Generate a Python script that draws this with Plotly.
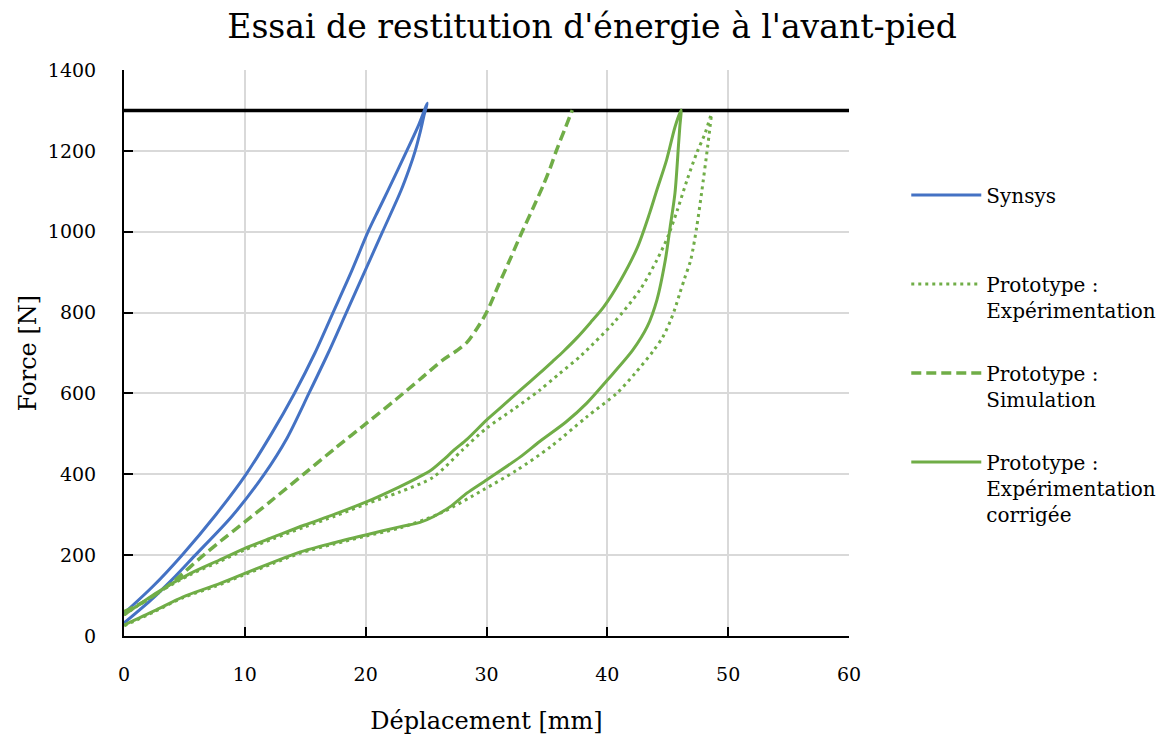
import plotly.graph_objects as go

# ---------------- data ----------------
synsys_x = [0, 2.4, 4.8, 7.6, 10.1, 12.2, 14.1, 15.8, 17.3, 18.8, 20.2, 21.0, 21.8, 23.4, 24.4, 25.1,
            24.85, 24.5, 24.1, 23.6, 22.9, 21.4, 19.9, 18.4, 16.9, 15.3, 13.5, 11.6, 8.9, 5.9, 4.0, 2.2, 0]
synsys_y = [56, 123, 200, 300, 400, 500, 600, 700, 800, 900, 1000, 1050, 1099, 1200, 1265, 1318,
            1290, 1245, 1200, 1155, 1100, 1000, 900, 800, 700, 600, 490, 400, 295, 200, 140, 88, 32]

exp_x = [0, 2.8, 5.5, 7.9, 10, 12.4, 14.9, 17.5, 20, 22.8, 25.6, 28, 30, 32.2, 34.4, 36, 37.7, 38.3, 40.5,
         42.7, 44.1, 45.0, 45.8, 46.6, 47.4, 48.1, 48.6,
         48.5, 48.3, 47.8, 47.4, 46.9, 46.4, 46.0, 45.6, 45.2, 44.6, 43.8, 42.3, 40.8, 38.3, 35.3, 32.5,
         29.7, 26.2, 22.8, 20, 17.3, 14.6, 12.3, 10, 7.5, 4.9, 2.5, 0]
exp_y = [52, 107, 152, 184, 213, 241, 269, 297, 326, 356, 393, 460, 514, 560, 608, 648, 690, 707, 774,
         856, 930, 987, 1054, 1128, 1195, 1244, 1290,
         1260, 1210, 1096, 1012, 930, 885, 848, 810, 778, 740, 705, 650, 601, 542, 468, 410,
         361, 304, 267, 247, 227, 205, 179, 152, 122, 95, 60, 25]

sim_x = [0, 1.5, 3, 4.5, 6.2, 8, 10, 12, 14.9, 17.5, 20.1, 22.5, 24.5, 26.4, 27.6, 28.4, 29.2, 30, 31, 32,
         32.8, 33.8, 34.7, 35.3, 35.8, 36.5, 37.1]
sim_y = [60, 82, 110, 145, 190, 235, 282, 330, 401, 465, 527, 585, 635, 683, 707, 727, 760, 800, 868, 935,
         990, 1055, 1115, 1160, 1202, 1255, 1301]

corr_x = [0, 2.8, 5.5, 7.9, 10, 12.4, 14.9, 17.5, 20, 22.8, 24.2, 25.4, 26.4, 27.4, 28.4, 30, 31.1, 32.8,
          34.4, 35.5, 36.4, 37.5, 38.6, 39.7, 41.1, 42.5, 43.5, 44.1, 44.9, 45.6, 46.1,
          46.0, 45.9, 45.6, 45.2, 44.8, 44.1, 43.3, 42.1, 40.0, 38.3, 36.6, 34.4, 32.8, 30.0, 28.4, 27.0,
          25.6, 24.5, 22.8, 20.0, 17.3, 14.6, 12.3, 10.0, 7.5, 4.9, 2.5, 0]
corr_y = [52, 109, 155, 188, 217, 245, 274, 302, 331, 369, 390, 410, 435, 462, 487, 534, 563, 608,
          650, 680, 705, 738, 775, 814, 880, 962, 1046, 1103, 1177, 1259, 1301,
          1260, 1219, 1096, 1012, 930, 831, 765, 707, 633, 576, 530, 481, 443, 386, 354, 320,
          295, 281, 270, 250, 230, 208, 182, 155, 125, 97, 62, 27]

limit_x = [0, 60]
limit_y = [1300, 1300]

names = ["Synsys<br>\u00a0", "Prototype :<br>Expérimentation", "Prototype :<br>Simulation",
         "Prototype :<br>Expérimentation<br>corrigée"]

x_ticks = [0, 10, 20, 30, 40, 50, 60]
y_ticks = [0, 200, 400, 600, 800, 1000, 1200, 1400]

BLUE = "#4472C4"
GREEN = "#70AD47"
FONT = "DejaVu Serif"
SPL = dict(shape="spline", smoothing=0.8)

fig = go.Figure()
fig.add_trace(go.Scatter(x=limit_x, y=limit_y, mode="lines", line=dict(color="black", width=3.5),
                         showlegend=False, hoverinfo="skip"))
fig.add_trace(go.Scatter(x=synsys_x, y=synsys_y, mode="lines", name=names[0], legendgroup="a",
                         line=dict(color=BLUE, width=3, **SPL)))
fig.add_trace(go.Scatter(x=exp_x, y=exp_y, mode="lines", name=names[1], legendgroup="b",
                         line=dict(color=GREEN, width=3, dash="3px,4px", **SPL)))
fig.add_trace(go.Scatter(x=sim_x, y=sim_y, mode="lines", name=names[2], legendgroup="c",
                         line=dict(color=GREEN, width=3.5, dash="10px,5px", **SPL)))
fig.add_trace(go.Scatter(x=corr_x, y=corr_y, mode="lines", name=names[3], legendgroup="d",
                         line=dict(color=GREEN, width=3, **SPL)))

axis_common = dict(
    showline=True, linecolor="black", linewidth=2,
    ticks="inside", ticklen=9, tickwidth=2, tickcolor="black",
    showgrid=True, gridcolor="#D9D9D9", gridwidth=2,
    zeroline=False, automargin=False,
    tickfont=dict(family=FONT, size=19, color="black"),
)

# the page body has an 8px margin, so the figure is drawn 8px smaller and offset
fig.update_layout(
    width=1159, height=727,
    paper_bgcolor="white", plot_bgcolor="white",
    margin=dict(l=116, r=318, t=62, b=99, autoexpand=False),
    title=dict(text="Essai de restitution d'énergie à l'avant-pied", x=0.504, xanchor="center",
               y=0.975, yanchor="middle", automargin=False,
               font=dict(family=FONT, size=33, color="black")),
    xaxis=dict(range=[0, 60], tickvals=x_ticks, ticklabelstandoff=20,
               title=dict(text="Déplacement [mm]", standoff=28,
                          font=dict(family=FONT, size=24, color="black")),
               **axis_common),
    yaxis=dict(range=[0, 1400], tickvals=y_ticks, ticklabelstandoff=22,
               title=dict(text="Force [N]", standoff=4,
                          font=dict(family=FONT, size=24, color="black")),
               **axis_common),
    legend=dict(x=1.079, xanchor="left", y=0.8135, yanchor="top", valign="top",
                font=dict(family=FONT, size=20, color="black"),
                tracegroupgap=34, itemwidth=70, bgcolor="rgba(0,0,0,0)"),
    showlegend=True,
)

fig.write_html("out.html")
